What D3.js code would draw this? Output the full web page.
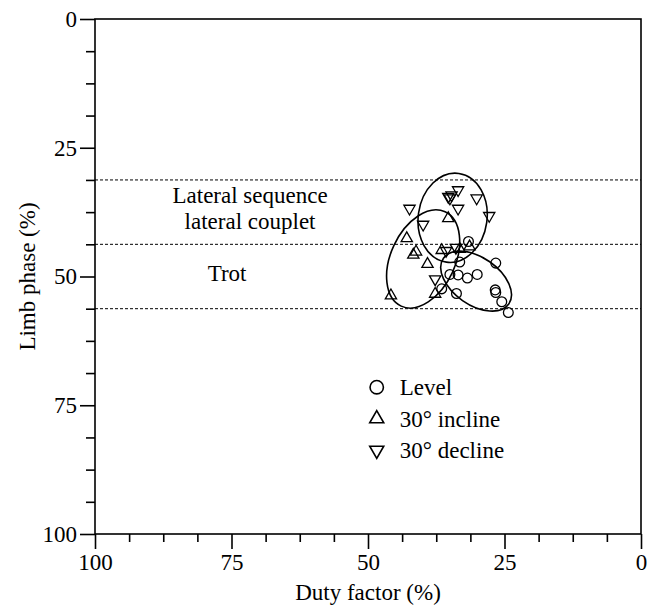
<!DOCTYPE html>
<html>
<head>
<meta charset="utf-8">
<script src="https://cdn.jsdelivr.net/npm/d3@7"></script>
<style>
  body { margin: 0; background: #fff; }
</style>
</head>
<body>
<svg id="chart"></svg>
<script>
// duty factor (%) / limb phase (%)
const levelDuty   = [31.6, 26.6, 33.2, 35.0, 33.5, 31.8, 30.0, 36.5, 33.8, 26.7, 26.6, 25.5, 24.3];
const levelPhase  = [43.2, 47.4, 47.2, 49.6, 49.7, 50.3, 49.6, 52.4, 53.3, 52.6, 53.1, 54.9, 57.0];
const inclineDuty  = [45.8, 42.9, 41.7, 41.2, 39.1, 37.7, 36.5, 35.3, 33.2, 31.4];
const inclinePhase = [53.7, 42.6, 45.8, 45.2, 47.6, 53.4, 44.9, 38.7, 44.7, 44.2];
const declineDuty  = [42.4, 39.9, 35.3, 35.0, 34.7, 33.5, 33.5, 30.1, 27.8, 35.7, 33.9, 37.7];
const declinePhase = [36.8, 39.9, 34.5, 34.8, 34.2, 33.2, 36.8, 34.8, 38.2, 45.0, 44.4, 50.5];

// ellipses: centre, semi axes (in axis units), tilt (deg)
const ellipseCx  = [34.5, 39.9, 30.2];
const ellipseCy  = [38.6, 46.6, 50.9];
const ellipseRx  = [6.3, 5.9, 7.3];
const ellipseRy  = [8.7, 10.1, 4.6];
const ellipseRot = [8, 25, 35];

const gaitLines = [31.25, 43.75, 56.25];
const majorTicks = [0, 25, 50, 75, 100];
const minorTicks = [6.25, 12.5, 18.75, 31.25, 37.5, 43.75, 56.25, 62.5, 68.75, 81.25, 87.5, 93.75];

const legendNames = ['Level', '30\u00b0 incline', '30\u00b0 decline'];

const FONT = '"Liberation Serif", "Times New Roman", Tinos, "DejaVu Serif", serif';
const FS = 23;

class PhaseChart {
  constructor(_config) {
    this.config = {
      parentElement: _config.parentElement,
      containerWidth: 649,
      containerHeight: 606,
      margin: {top: 19, right: 8, bottom: 72, left: 95}
    };
    this.initVis();
  }

  initVis() {
    let vis = this;
    vis.width = vis.config.containerWidth - vis.config.margin.left - vis.config.margin.right;
    vis.height = vis.config.containerHeight - vis.config.margin.top - vis.config.margin.bottom;

    vis.svg = d3.select(vis.config.parentElement)
      .attr('width', vis.config.containerWidth)
      .attr('height', vis.config.containerHeight);

    vis.chart = vis.svg.append('g')
      .attr('transform', `translate(${vis.config.margin.left},${vis.config.margin.top})`);

    // duty factor runs backwards, 100 on the left
    vis.xScale = d3.scaleLinear().domain([100, 0]).range([0, vis.width]);
    vis.yScale = d3.scaleLinear().domain([0, 100]).range([0, vis.height]);

    vis.renderVis();
  }

  renderVis() {
    let vis = this;
    const x = vis.xScale, y = vis.yScale;

    // gait boundaries
    vis.chart.selectAll('.gait-line')
      .data(gaitLines)
      .join('line')
      .attr('class', 'gait-line')
      .attr('x1', 0).attr('x2', vis.width)
      .attr('y1', d => y(d)).attr('y2', d => y(d))
      .attr('stroke', '#000')
      .attr('stroke-width', 1)
      .attr('stroke-dasharray', '3,2');

    // axes
    const xMajor = d3.axisBottom(x).tickValues(majorTicks).tickSize(15).tickPadding(5).tickFormat(d3.format('d'));
    const xMinor = d3.axisBottom(x).tickValues(minorTicks).tickSize(8).tickFormat('');
    const yMajor = d3.axisLeft(y).tickValues(majorTicks).tickSize(15).tickPadding(3).tickFormat(d3.format('d'));
    const yMinor = d3.axisLeft(y).tickValues(minorTicks).tickSize(9).tickFormat('');

    [xMajor, xMinor].forEach(ax => {
      vis.chart.append('g')
        .attr('transform', `translate(0,${vis.height})`)
        .call(ax);
    });
    [yMajor, yMinor].forEach(ax => {
      vis.chart.append('g').call(ax);
    });
    vis.chart.selectAll('.domain').remove();
    vis.chart.selectAll('.tick line').attr('stroke', '#000').attr('stroke-width', 1.6);
    vis.chart.selectAll('.tick text').attr('font-size', FS).attr('font-family', FONT).attr('fill', '#000');

    // frame
    vis.chart.append('rect')
      .attr('width', vis.width)
      .attr('height', vis.height)
      .attr('fill', 'none')
      .attr('stroke', '#000')
      .attr('stroke-width', 1.6);

    // region labels
    const regionText = [
      {t: 'Lateral sequence', dx: 71.6, py: 35.7},
      {t: 'lateral couplet', dx: 71.6, py: 40.8},
      {t: 'Trot', dx: 75.8, py: 50.9}
    ];
    vis.chart.selectAll('.region-label')
      .data(regionText)
      .join('text')
      .attr('class', 'region-label')
      .attr('x', d => x(d.dx))
      .attr('y', d => y(d.py))
      .attr('text-anchor', 'middle')
      .attr('font-size', FS)
      .attr('font-family', FONT)
      .text(d => d.t);

    // ellipses
    const ell = ellipseCx.map((c, i) => ({cx: c, cy: ellipseCy[i], rx: ellipseRx[i], ry: ellipseRy[i], rot: ellipseRot[i]}));
    const pxPerX = Math.abs(x(1) - x(0)), pxPerY = Math.abs(y(1) - y(0));
    vis.chart.selectAll('.ellipse')
      .data(ell)
      .join('ellipse')
      .attr('class', 'ellipse')
      .attr('transform', d => `translate(${x(d.cx)},${y(d.cy)}) rotate(${d.rot})`)
      .attr('rx', d => d.rx * pxPerX)
      .attr('ry', d => d.ry * pxPerY)
      .attr('fill', 'none')
      .attr('stroke', '#000')
      .attr('stroke-width', 1.6);

    // points
    const circle = d3.symbol().type(d3.symbolCircle).size(75);
    const tri = d3.symbol().type(d3.symbolTriangle).size(55);
    const series = [
      {duty: levelDuty, phase: levelPhase, path: circle(), rot: 0},
      {duty: inclineDuty, phase: inclinePhase, path: tri(), rot: 0},
      {duty: declineDuty, phase: declinePhase, path: tri(), rot: 180}
    ];
    series.forEach((s, i) => {
      vis.chart.selectAll(`.pt-${i}`)
        .data(s.duty.map((d, j) => [d, s.phase[j]]))
        .join('path')
        .attr('class', `pt-${i}`)
        .attr('d', s.path)
        .attr('transform', d => `translate(${x(d[0])},${y(d[1])}) rotate(${s.rot})`)
        .attr('fill', 'none')
        .attr('stroke', '#000')
        .attr('stroke-width', 1.3);
    });

    // legend
    const legendSyms = [
      d3.symbol().type(d3.symbolCircle).size(140)(),
      d3.symbol().type(d3.symbolTriangle).size(85)(),
      d3.symbol().type(d3.symbolTriangle).size(85)()
    ];
    const legendRot = [0, 0, 180];
    const legend = vis.chart.append('g')
      .attr('transform', `translate(${x(48.4)},${y(71.5)})`);
    legendNames.forEach((name, i) => {
      const row = legend.append('g').attr('transform', `translate(0,${i * 31.5})`);
      row.append('path')
        .attr('d', legendSyms[i])
        .attr('transform', `rotate(${legendRot[i]})`)
        .attr('fill', 'none')
        .attr('stroke', '#000')
        .attr('stroke-width', 1.6);
      row.append('text')
        .attr('x', 23)
        .attr('dy', '0.35em')
        .attr('font-size', FS)
        .attr('font-family', FONT)
        .text(name);
    });

    // axis titles
    vis.svg.append('text')
      .attr('x', vis.config.margin.left + vis.width / 2)
      .attr('y', 600)
      .attr('text-anchor', 'middle')
      .attr('font-size', FS)
      .attr('font-family', FONT)
      .text('Duty factor (%)');

    vis.svg.append('text')
      .attr('transform', `translate(35,${vis.config.margin.top + vis.height / 2}) rotate(-90)`)
      .attr('text-anchor', 'middle')
      .attr('font-size', FS)
      .attr('font-family', FONT)
      .text('Limb phase (%)');
  }
}

new PhaseChart({parentElement: '#chart'});
</script>
</body>
</html>
